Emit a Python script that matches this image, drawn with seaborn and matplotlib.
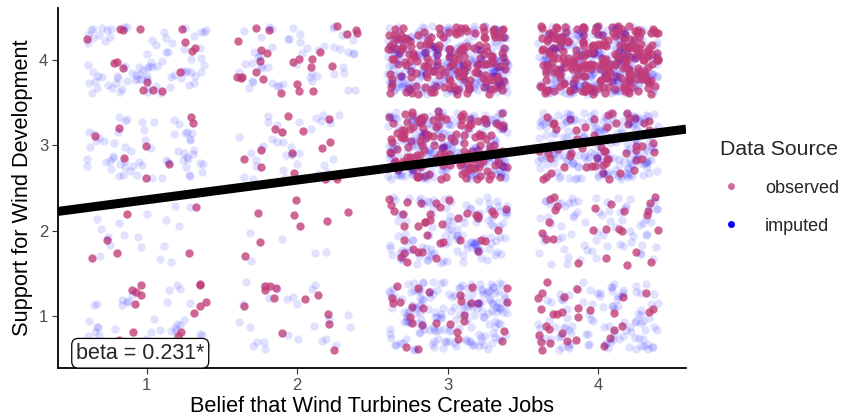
import numpy as np
import pandas as pd
import matplotlib
matplotlib.use("Agg")
import matplotlib.pyplot as plt
from matplotlib.lines import Line2D
import seaborn as sns

# Response levels on both scales
jobs_levels = [1, 2, 3, 4]
support_levels = [4, 3, 2, 1]

# Respondent counts per (support, jobs) cell; rows follow support_levels
observed_counts = [
    [16, 25, 190, 260],
    [8, 15, 150, 60],
    [6, 8, 40, 25],
    [18, 12, 28, 30],
]
imputed_counts = [
    [80, 50, 260, 260],
    [60, 35, 220, 200],
    [18, 5, 120, 70],
    [35, 25, 170, 100],
]

# Fitted regression of support on jobs belief
beta = 0.231
intercept = 2.131
beta_label = "beta = 0.231*"

source_labels = ["observed", "imputed"]
source_colors = {"observed": "#C23C78", "imputed": "#0000FF"}
source_alpha = {"observed": 0.78, "imputed": 0.12}


def expand(counts, source):
    rows = []
    for yi, y in enumerate(support_levels):
        for xi, x in enumerate(jobs_levels):
            rows += [(x, y, source)] * counts[yi][xi]
    return pd.DataFrame(rows, columns=["jobs", "support", "source"])


df = pd.concat([expand(observed_counts, "observed"),
                expand(imputed_counts, "imputed")], ignore_index=True)

# jitter the integer responses so overlapping answers stay visible
rng = np.random.default_rng(7)
df["jobs_j"] = df["jobs"] + rng.uniform(-0.4, 0.4, len(df))
df["support_j"] = df["support"] + rng.uniform(-0.4, 0.4, len(df))
df["layer"] = rng.integers(0, 3, len(df))

sns.set_theme(style="white")
plt.rcParams["font.family"] = ["Liberation Sans", "DejaVu Sans"]

fig = plt.figure(figsize=(8.44, 4.19), dpi=100)
ax = fig.add_axes([58 / 844, 51 / 419, 628 / 844, 360 / 419])

# interleave the two sources in layers so neither sits fully on top
for layer in range(3):
    for src in ["imputed", "observed"]:
        sub = df[(df.source == src) & (df.layer == layer)]
        sns.scatterplot(data=sub, x="jobs_j", y="support_j",
                        color=source_colors[src], alpha=source_alpha[src],
                        s=36, linewidth=0, ax=ax, legend=False)

xlim = (0.41, 4.585)
ylim = (0.39, 4.61)
fit = pd.DataFrame({"jobs": list(xlim)})
fit["support"] = intercept + beta * fit["jobs"]
sns.lineplot(data=fit, x="jobs", y="support", color="black", linewidth=6.5,
             ax=ax, solid_capstyle="butt")
ax.set_xlim(*xlim)
ax.set_ylim(*ylim)

ax.text(0.53, 0.44, beta_label, fontsize=15.5, ha="left", va="bottom",
        bbox=dict(boxstyle="round,pad=0.2,rounding_size=0.3",
                  facecolor="white", edgecolor="black", linewidth=0.9))

ax.set_xticks(jobs_levels)
ax.set_yticks(sorted(support_levels))
ax.tick_params(axis="both", which="both", length=4, width=0.8,
               color="#333333", labelcolor="#4D4D4D", labelsize=12,
               bottom=True, left=True, pad=3)
for side in ["top", "right"]:
    ax.spines[side].set_visible(False)
for side in ["left", "bottom"]:
    ax.spines[side].set_color("black")
    ax.spines[side].set_linewidth(1.3)

ax.set_xlabel("Belief that Wind Turbines Create Jobs", fontsize=15.7, color="black", labelpad=2)
ax.set_ylabel("Support for Wind Development", fontsize=15.7, color="black", labelpad=4)

handles = [
    Line2D([], [], linestyle="", marker="o", markersize=5,
           markerfacecolor=source_colors["observed"], markeredgewidth=0, alpha=0.75),
    Line2D([], [], linestyle="", marker="o", markersize=5,
           markerfacecolor=source_colors["imputed"], markeredgewidth=0),
]
leg = fig.legend(handles, source_labels, title="Data Source",
                 loc="upper left", bbox_to_anchor=(720 / 844, 1 - 140 / 419),
                 frameon=False, fontsize=13, title_fontsize=15.3,
                 handletextpad=1.3, labelspacing=1.15, borderaxespad=0,
                 borderpad=0, handlelength=1.2)
leg._legend_box.align = "left"

fig.savefig("out.png", dpi=100)
